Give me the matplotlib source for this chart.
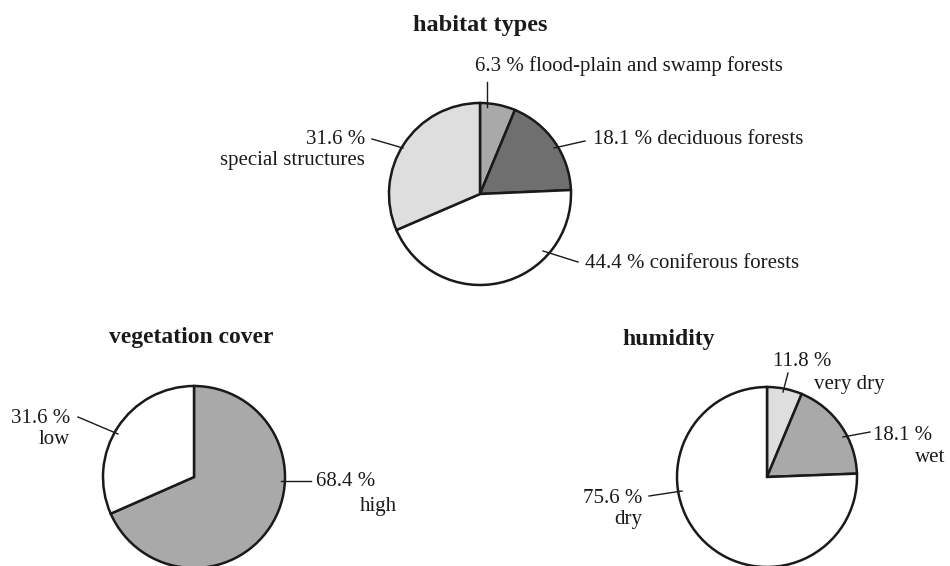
import matplotlib
matplotlib.use("Agg")
import matplotlib.pyplot as plt

plt.rcParams['font.family'] = ['Liberation Serif', 'DejaVu Serif']

H = 566  # figure height in px, used to flip y

# habitat types
habitat_sizes = [6.3, 18.1, 44.4, 31.6]
habitat_colors = ['#a9a9a9', '#6f6f6f', '#ffffff', '#dedede']

# vegetation cover
vegetation_sizes = [68.4, 31.6]
vegetation_colors = ['#a9a9a9', '#ffffff']

# humidity (wedges as drawn in the original)
humidity_sizes = [6.3, 18.1, 75.6]
humidity_colors = ['#dedede', '#a9a9a9', '#ffffff']

fig = plt.figure(figsize=(9.5, 5.66), dpi=100)
ax = fig.add_axes([0, 0, 1, 1])

wedge_kw = dict(edgecolor='#1a1a1a', linewidth=1.8)


def draw_pie(sizes, colors, cx, cy, r):
    ax.pie(sizes, colors=colors, startangle=90, counterclock=False,
           center=(cx, H - cy), radius=r, wedgeprops=wedge_kw)


draw_pie(habitat_sizes, habitat_colors, 480, 194, 91)
draw_pie(vegetation_sizes, vegetation_colors, 194, 477, 91)
draw_pie(humidity_sizes, humidity_colors, 767, 477, 90)

ax.set_xlim(0, 950)
ax.set_ylim(0, H)
ax.set_aspect('auto')
ax.axis('off')

fs = 15


def leader(x0, y0, x1, y1):
    ax.plot([x0, x1], [H - y0, H - y1], color='#1a1a1a', lw=1.0)


def label(x, y, s, ha='left', weight='normal', size=fs):
    ax.text(x, H - y, s, ha=ha, va='center', fontsize=size,
            fontweight=weight, color='#1a1a1a', linespacing=1.2)


# titles
label(480, 25, 'habitat types', ha='center', weight='bold', size=17.5)
label(191, 338, 'vegetation cover', ha='center', weight='bold', size=17)
label(669, 340, 'humidity', ha='center', weight='bold', size=17)

# habitat labels
leader(487, 107, 487, 82)
label(475, 66, '6.3 % flood-plain and swamp forests')
leader(554, 148, 585, 141)
label(593, 140, '18.1 % deciduous forests')
leader(543, 251, 578, 262)
label(585, 264, '44.4 % coniferous forests')
leader(403, 148, 372, 139)
label(365, 150, '31.6 %\nspecial structures', ha='right')

# vegetation labels
leader(118, 434, 78, 417)
label(70, 429, '31.6 %\nlow', ha='right')
leader(281, 481, 311, 481)
label(316, 482, '68.4 %')
label(397, 507, 'high', ha='right')

# humidity labels
leader(783, 392, 788, 373)
label(773, 362, '11.8 %')
label(885, 385, 'very dry', ha='right')
leader(843, 437, 870, 432)
label(873, 435, '18.1 %')
label(945, 458, 'wet', ha='right')
leader(682, 491, 649, 496)
label(642, 509, '75.6 %\ndry', ha='right')

fig.savefig('out.png', dpi=100)
